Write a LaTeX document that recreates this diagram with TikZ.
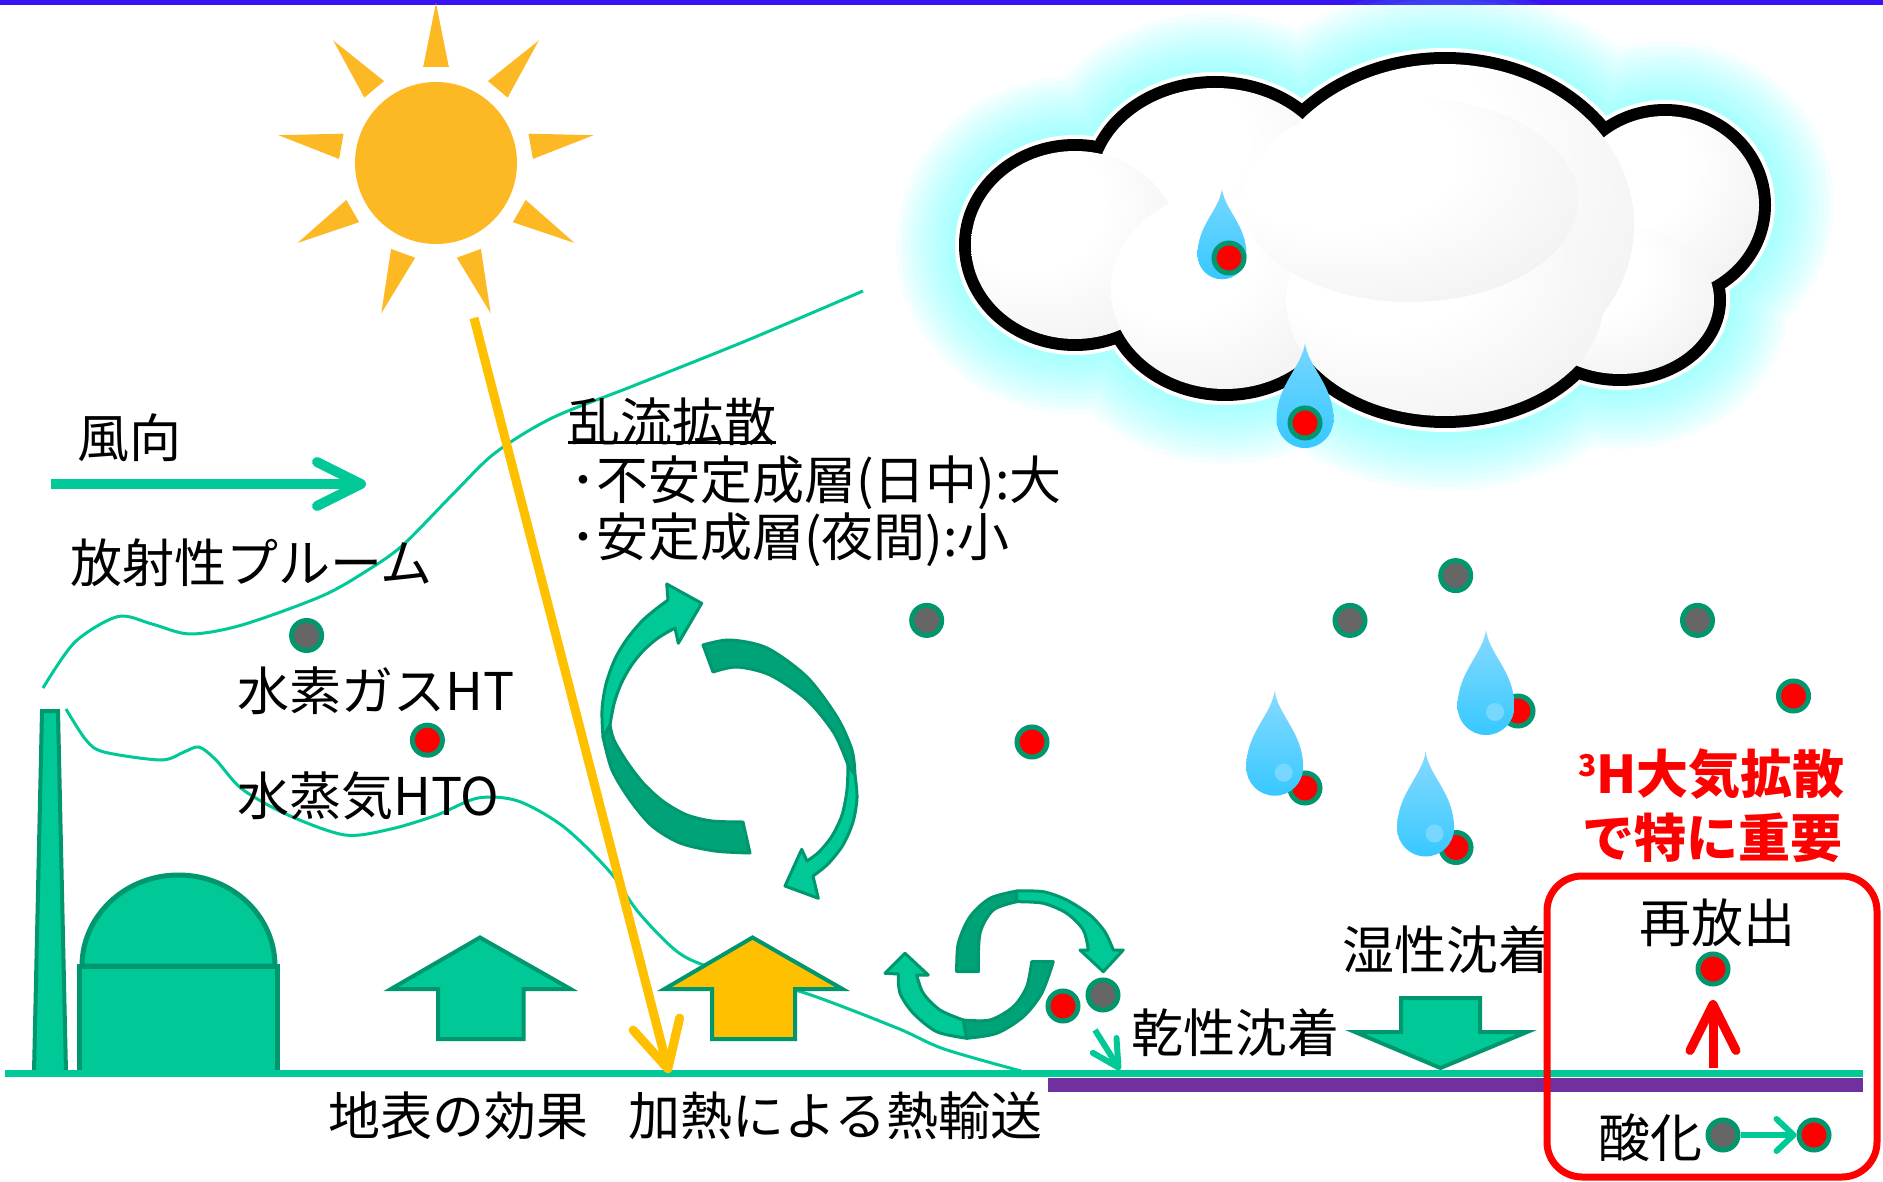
\documentclass[tikz,border=0pt]{standalone}
\usepackage{fontspec}
\setmainfont{Noto Sans CJK JP}
\usetikzlibrary{arrows.meta}

\definecolor{tg}{RGB}{0,200,150}
\definecolor{tgd}{RGB}{0,150,110}
\definecolor{tgm}{RGB}{0,163,120}
\definecolor{sunc}{RGB}{253,185,36}
\definecolor{gold}{RGB}{255,192,0}
\definecolor{purp}{RGB}{112,48,160}
\definecolor{topbar}{RGB}{55,20,240}
\definecolor{dotgray}{RGB}{102,102,102}
\definecolor{dropTop}{RGB}{135,218,255}
\definecolor{dropBot}{RGB}{55,200,255}
\definecolor{dropHi}{RGB}{120,215,255}
\definecolor{glowc}{RGB}{110,255,255}

\pgfdeclareradialshading{puff}{\pgfpoint{-14bp}{14bp}}{color(0bp)=(white); color(18bp)=(white); color(46bp)=(black!7); color(64bp)=(black!12); color(90bp)=(black!12)}

\tikzset{
  cloudpath/.style={insert path={
    (1075,245) ellipse[x radius=104,y radius=94]
    (1215,185) ellipse[x radius=119,y radius=97]
    (1445,225) ellipse[x radius=189,y radius=161]
    (1665,205) ellipse[x radius=94,y radius=89]
    (1620,300) ellipse[x radius=94,y radius=74]
    (1445,300) ellipse[x radius=159,y radius=116]
    (1225,290) ellipse[x radius=114,y radius=99]}},
  pics/raindrop/.style={code={
    \shade[top color=dropTop, bottom color=dropBot]
      (0,0) .. controls (3,24) and (28.5,42) .. (28.5,76.5)
      arc[start angle=0,end angle=180,radius=28.5]
      .. controls (-28.5,42) and (-3,24) .. cycle;
    \fill[dropHi] (9,82) circle[radius=9];}},
  pics/clouddrop/.style={code={
    \shade[top color=dropTop!80!dropBot, bottom color=dropBot]
      (0,0) .. controls (3,24) and (28.5,42) .. (28.5,76.5)
      arc[start angle=0,end angle=180,radius=28.5]
      .. controls (-28.5,42) and (-3,24) .. cycle;}}
}

\begin{document}
\begin{tikzpicture}[x=1pt,y=-1pt,
  lbl/.style={anchor=west, inner sep=0pt, font=\fontsize{52}{60}\selectfont},
  redlbl/.style={lbl, text=red, font=\fontsize{52}{60}\selectfont\bfseries},
  dotbase/.style={circle, draw=tgd, line width=5pt, minimum size=30pt, inner sep=0pt},
  reddot/.style={dotbase, fill=red},
  graydot/.style={dotbase, fill=dotgray},
  plume/.style={tg, line width=3pt},
  blockarrow/.style={draw=tgd, line width=4pt, line join=miter},
  ribbon/.style={draw=tgd, line width=3pt, line join=round},
  ray/.style={fill=sunc},
]
\useasboundingbox (0,0) rectangle (1883,1182);
\fill[white] (0,0) rectangle (1883,1182);

% top rule
\fill[topbar] (0,0) rectangle (1883,5);

% cloud: soft glow, rim, outline, shaded puffs
\foreach \w in {150,140,...,40}
  \draw[glowc, line width=\w pt, opacity=0.065, cloudpath];
\draw[white, line width=32pt, cloudpath];
\draw[black, line width=24pt, cloudpath];
\shade[shading=puff] (1215,185) ellipse[x radius=119,y radius=97];
\shade[shading=puff] (1665,205) ellipse[x radius=94,y radius=89];
\shade[shading=puff] (1075,245) ellipse[x radius=104,y radius=94];
\shade[shading=puff] (1620,300) ellipse[x radius=94,y radius=74];
\shade[shading=puff] (1445,225) ellipse[x radius=189,y radius=161];
\shade[shading=puff] (1225,290) ellipse[x radius=114,y radius=99];
\shade[shading=puff] (1445,300) ellipse[x radius=159,y radius=116];
\shade[shading=puff] (1410,200) ellipse[x radius=168,y radius=102];

% drops inside the cloud
\pic[scale=0.86] at (1222,189) {clouddrop};
\node[reddot] (rc1) at (1229,258) {};
\pic at (1305,343) {clouddrop};
\node[reddot] (rc2) at (1305,423) {};

% plume edges
\draw[plume] plot[smooth] coordinates {(43,688) (75,642) (118,616.5) (152,624) (190,634) (242,625) (322,596) (368,570) (403,545) (454,493) (495,453) (552,418) (633,386) (748,340) (863,291)};
\draw[plume] plot[smooth] coordinates {(66,709) (86,740) (104,752) (161,760) (184,752) (199,747) (216,760) (242,789) (288,815) (345,835) (391,829) (437,815) (478,798) (518,801) (564,827) (610,872) (639,913) (679,953) (719,970) (805,993) (897,1028) (944,1049) (1021,1071)};

% sun
\node[circle, fill=sunc, minimum size=162pt, inner sep=0pt] (sun) at (436,163) {};
\foreach \A in {90,130,...,410}
  \fill[ray, shift={(sun.center)}] (-\A:160) -- (-\A-7.6:97) -- (-\A+7.6:97) -- cycle;

% labels
\node[lbl] (wind) at (77,438) {風向};
\node[lbl] (plumelbl) at (70,563) {放射性プルーム};
\node[lbl] (ht) at (237,691) {水素ガスHT};
\node[lbl] (hto) at (237,796) {水蒸気HTO};
\node[lbl] (turb) at (568,422) {乱流拡散};
\draw[line width=3pt] ([yshift=4pt]turb.south west) -- ([yshift=4pt]turb.south east);
\node[lbl] (unst) at (570,483) {･不安定成層(日中):大};
\node[lbl] (stab) at (570,540) {･安定成層(夜間):小};
\node[lbl] (surf) at (328,1116) {地表の効果};
\node[lbl] (heat) at (628,1116) {加熱による熱輸送};
\node[lbl] (dry) at (1131,1033) {乾性沈着};
\node[lbl] (wet) at (1342,950) {湿性沈着};
\node[redlbl] (imp1) at (1578,774) {{\fontsize{30}{30}\selectfont\raisebox{17pt}{3}}H大気拡散};
\node[redlbl] (imp2) at (1582,838) {で特に重要};

% wind direction
\coordinate (windS) at (51,484);
\coordinate (windE) at (366,484);
\draw[tg, line width=10pt, -{Straight Barb[length=44pt,width=44pt,line cap=round,line join=round]}] (windS) -- (windE);

% stack and reactor building
\filldraw[fill=tg, draw=tgd, line width=4pt] (34,1072) -- (42,711) -- (58,711) -- (66,1072) -- cycle;
\filldraw[fill=tg, draw=tgd, line width=5pt] (82,966) arc[start angle=180,end angle=360,x radius=96.5,y radius=91] -- cycle;
\filldraw[fill=tg, draw=tgd, line width=5pt] (79.5,966) rectangle (277.5,1073);

% up arrows: surface effect and heating
\filldraw[blockarrow, fill=tg] (480,937.5) -- (570.5,989) -- (523.5,989) -- (523.5,1039) -- (438,1039) -- (438,989) -- (391,989) -- cycle;
\filldraw[blockarrow, fill=gold] (752.5,937.5) -- (842.5,989) -- (795,989) -- (795,1039) -- (712,1039) -- (712,989) -- (664.5,989) -- cycle;

% turbulent eddies
\filldraw[ribbon, fill=tgm] plot[smooth] coordinates {(603,737) (612,770) (630,800) (652,826) (680,843) (715,851) (750,853)} -- (743,822) -- plot[smooth] coordinates {(743,822) (712,821) (687,815) (664,802) (644,784) (627,762) (614,740) (610,725)} -- cycle;
\filldraw[ribbon, fill=tg] plot[smooth] coordinates {(603,737) (602,710) (606,684) (615,659) (627,639) (642,621) (656,609) (668,600)} -- (666.7,584) -- (701.7,603.3) -- (678.3,643.3) -- (675,628) -- plot[smooth] coordinates {(675,628) (658,638) (643,651) (631,666) (621,684) (614,704) (610,725)} -- cycle;
\filldraw[ribbon, fill=tgm] plot[smooth] coordinates {(703,645) (730,640) (767,648) (807,677) (837,717) (852,750) (855,775)} -- (848,765) -- plot[smooth] coordinates {(848,765) (834,733) (807,700) (770,675) (737,667) (713,672)} -- cycle;
\filldraw[ribbon, fill=tg] plot[smooth] coordinates {(855,775) (857,798) (853,822) (843,845) (828,864) (813,876)} -- (818.3,898.3) -- (785,886) -- (801.7,849.3) -- (807,861) -- plot[smooth] coordinates {(807,861) (819,852) (832,836) (842,815) (847,790) (848,765)} -- cycle;

% small eddies near the surface
\filldraw[ribbon, fill=tg] (898.3,974) -- (885,973.3) -- (905,953.3) -- (928.3,975) -- (916.7,975) -- plot[smooth] coordinates {(916.7,975) (923.3,993.3) (940,1010) (963.3,1020)} -- (966.7,1038.3) -- plot[smooth] coordinates {(966.7,1038.3) (936.7,1031.7) (913.3,1013.3) (900,993.3) (898.3,974)} -- cycle;
\filldraw[ribbon, fill=tgm] plot[smooth] coordinates {(966.7,1038.3) (996.7,1033.3) (1023.3,1016.7) (1041.7,993.3) (1053.3,961.7)} -- (1031.7,961.7) -- plot[smooth] coordinates {(1031.7,961.7) (1026.7,986.7) (1013.3,1006.7) (990,1020) (963.3,1020)} -- cycle;
\filldraw[ribbon, fill=tgm] plot[smooth] coordinates {(956.7,971.7) (958.3,943.3) (970,916.7) (990,898.3) (1016.7,891)} -- (1016.7,901.7) -- plot[smooth] coordinates {(1016.7,901.7) (993.3,910) (980,933.3) (978.3,971.7)} -- cycle;
\filldraw[ribbon, fill=tg] plot[smooth] coordinates {(1016.7,891) (1043.3,891.7) (1066.7,900) (1090,915) (1105,932) (1113.3,950)} -- (1123.3,950) -- (1103.3,971.7) -- (1080,950) -- (1088.3,950) -- plot[smooth] coordinates {(1088.3,950) (1083.3,930) (1066.7,913.3) (1043.3,903.3) (1016.7,901.7)} -- cycle;

% wet deposition arrow
\filldraw[blockarrow, fill=tg] (1401,998) -- (1480,998) -- (1480,1032) -- (1527,1032) -- (1440.5,1068) -- (1355,1032) -- (1401,1032) -- cycle;

% re-emission frame background
\fill[white] (1547,876) [rounded corners=35pt] rectangle (1877,1177);

% ground surface and soil
\draw[tg, line width=7pt] (5,1073) -- (1863,1073);
\fill[purp] (1048,1078) rectangle (1863,1092);

% solar radiation
\coordinate (beamS) at (474,318);
\coordinate (beamE) at (669,1073);
\draw[gold, line width=9pt, -{Straight Barb[length=46pt,width=48pt,line cap=round,line join=round]}] (beamS) -- (beamE);

% tritium species in air
\node[graydot] (g1) at (306.6,635.5) {};
\node[reddot]  (r1) at (427.4,740.2) {};
\node[graydot] (g2) at (926.7,620.4) {};
\node[graydot] (g3) at (1350,620.4) {};
\node[graydot] (g4) at (1455.7,575.6) {};
\node[graydot] (g5) at (1697.5,620.4) {};
\node[reddot]  (r2) at (1032,742) {};
\node[reddot]  (r3) at (1793.5,696) {};
\node[reddot]  (r4) at (1305,788) {};
\node[reddot]  (r5) at (1518,711) {};
\node[reddot]  (r6) at (1456,847.5) {};
\node[reddot]  (r7) at (1063,1006) {};
\node[graydot] (g6) at (1103,995) {};

% falling rain drops
\pic at (1274.7,690.7) {raindrop};
\pic at (1486,630) {raindrop};
\pic at (1425.6,751.5) {raindrop};

% dry deposition
\coordinate (dryS) at (1095,1030);
\coordinate (dryE) at (1120,1070);
\draw[tg, line width=6pt, -{Straight Barb[length=26pt,width=28pt,line cap=round,line join=round]}] (dryS) -- (dryE);

% re-emission and oxidation
\draw[red, line width=7pt, rounded corners=35pt] (1547,876) rectangle (1877,1177);
\node[lbl] (reem) at (1639,923) {再放出};
\node[reddot] (r8) at (1713,969) {};
\coordinate (reemS) at (1713,1068);
\coordinate (reemE) at (1713,1000);
\draw[red, line width=9pt, -{Straight Barb[length=46pt,width=46pt,line cap=round,line join=round]}] (reemS) -- (reemE);
\node[lbl] (oxid) at (1598,1138) {酸化};
\node[graydot] (g7) at (1723,1135) {};
\node[reddot]  (r9) at (1814,1135) {};
\draw[tg, line width=6pt, -{Straight Barb[length=17pt,width=32pt,line cap=round,line join=round]}] (g7) -- (r9);
\end{tikzpicture}
\end{document}
